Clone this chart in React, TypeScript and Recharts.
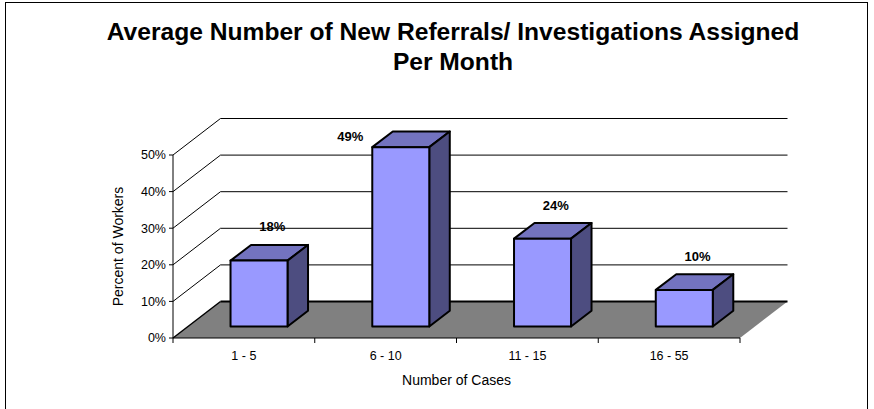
import { BarChart, Bar, XAxis, YAxis, CartesianGrid, LabelList } from 'recharts';

const categories = ['1 - 5', '6 - 10', '11 - 15', '16 - 55'];
const percentOfWorkers = [18, 49, 24, 10];
const yTicks = [0, 10, 20, 30, 40, 50];

const chartData = categories.map((category, i) => ({ category, value: percentOfWorkers[i] }));

const W = 874;
const H = 409;
const MARGIN = { top: 155, right: 134, bottom: 0, left: 0 };
const Y_AXIS_W = 173;
const X_AXIS_H = 71;
const BAND = (W - Y_AXIS_W - MARGIN.right) / categories.length;

// depth of the floor / back wall
const DX = 47.5;
const DY = 36.5;
// where the bars sit inside that depth
const FX = 15;
const FY = 11.5;
const BDX = 20.5;
const BDY = 15.7;

const FONT = '"Liberation Sans", Arial, sans-serif';

const GridLine = (props: any) => {
  const { x1, y1, x2, y, height } = props;
  const isFloor = Math.abs(y1 - (y + height)) < 1;
  if (isFloor) {
    return (
      <g>
        <polygon
          points={`${x1},${y1} ${x2},${y1} ${x2 + DX},${y1 - DY} ${x1 + DX},${y1 - DY}`}
          fill="#808080"
          stroke="none"
        />
        <line x1={x1} y1={y1} x2={x1 + DX} y2={y1 - DY} stroke="#000" strokeWidth={1.5} />
        <line x1={x1 + DX} y1={y1 - DY} x2={x2 + DX} y2={y1 - DY} stroke="#000" strokeWidth={2} />
      </g>
    );
  }
  return (
    <g>
      <line x1={x1} y1={y1} x2={x1 + DX} y2={y1 - DY} stroke="#000" strokeWidth={1} />
      <line x1={x1 + DX} y1={y1 - DY} x2={x2 + DX} y2={y1 - DY} stroke="#000" strokeWidth={1} />
    </g>
  );
};

const Bar3D = (props: any) => {
  const { x, y, width, height } = props;
  const fx = x + FX;
  const fy = y - FY;
  const bottom = y + height - FY;
  const r = fx + width;
  return (
    <g stroke="#000" strokeWidth={2} strokeLinejoin="round">
      <polygon
        points={`${fx},${fy} ${fx + BDX},${fy - BDY} ${r + BDX},${fy - BDY} ${r},${fy}`}
        fill="#7373BF"
      />
      <polygon
        points={`${r},${fy} ${r + BDX},${fy - BDY} ${r + BDX},${bottom - BDY} ${r},${bottom}`}
        fill="#4D4D80"
      />
      <rect x={fx} y={fy} width={width} height={height} fill="#9999FF" />
    </g>
  );
};

const ValueLabel = (props: any) => {
  const { x, y, width, value } = props;
  const fx = x + FX;
  const fy = y - FY;
  let lx = fx + width / 2 + BDX / 2 + 3;
  let ly = fy - BDY - 18;
  if (ly < MARGIN.top - DY) {
    // no room above the wall: put it to the left of the bar
    lx = fx - 22;
    ly = fy - 11;
  }
  return (
    <text x={lx} y={ly} dy="0.35em" textAnchor="middle" fontSize={13} fontWeight="bold" fill="#000" fontFamily={FONT}>
      {`${value}%`}
    </text>
  );
};

const CategoryTick = (props: any) => {
  const { x, y, payload, index } = props;
  const axisY = y - 5;
  const half = BAND / 2;
  return (
    <g>
      <line x1={x - half} y1={axisY} x2={x - half} y2={axisY + 5} stroke="#000" />
      {index === categories.length - 1 && (
        <line x1={x + half} y1={axisY} x2={x + half} y2={axisY + 5} stroke="#000" />
      )}
      <text x={x} y={axisY + 22} textAnchor="middle" fontSize={12.5} fill="#000" fontFamily={FONT}>
        {payload.value}
      </text>
    </g>
  );
};

export default function App() {
  return (
    <div
      style={{
        position: 'absolute',
        left: 0,
        top: 0,
        width: W,
        height: H,
        overflow: 'hidden',
        background: '#fff',
        fontFamily: FONT,
      }}
    >
      <div
        style={{
          position: 'absolute',
          left: 5,
          top: 2,
          width: 861,
          height: 440,
          border: '1px solid #000',
        }}
      />
      <div
        style={{
          position: 'absolute',
          left: 16,
          top: 17,
          width: W,
          textAlign: 'center',
          fontSize: 24.6,
          fontWeight: 'bold',
          lineHeight: '30px',
          color: '#000',
        }}
      >
        Average Number of New Referrals/ Investigations Assigned
        <br />
        Per Month
      </div>
      <div style={{ position: 'absolute', left: 0, top: 0 }}>
        <BarChart width={W} height={H} data={chartData} margin={MARGIN} barCategoryGap="30%">
          <CartesianGrid vertical={false} horizontal={GridLine} />
          <XAxis
            dataKey="category"
            height={X_AXIS_H}
            axisLine={{ stroke: '#000', strokeWidth: 1 }}
            tickLine={false}
            tickSize={5}
            tickMargin={0}
            tick={CategoryTick}
            interval={0}
            label={{
              value: 'Number of Cases',
              position: 'insideTop',
              offset: 37,
              fontSize: 14,
              fill: '#000',
              fontFamily: FONT,
            }}
          />
          <YAxis
            width={Y_AXIS_W}
            domain={[0, 50]}
            ticks={yTicks}
            tickFormatter={(v) => `${v}%`}
            axisLine={{ stroke: '#000', strokeWidth: 1 }}
            tickLine={{ stroke: '#000' }}
            tickSize={4}
            tickMargin={3}
            tick={{ fill: '#000', fontSize: 12.5, fontFamily: FONT }}
            label={{
              value: 'Percent of Workers',
              angle: -90,
              position: 'insideLeft',
              offset: 118,
              fontSize: 14,
              fill: '#000',
              fontFamily: FONT,
              style: { textAnchor: 'middle' },
            }}
          />
          <Bar dataKey="value" shape={Bar3D} isAnimationActive={false}>
            <LabelList dataKey="value" content={ValueLabel} />
          </Bar>
        </BarChart>
      </div>
    </div>
  );
}
